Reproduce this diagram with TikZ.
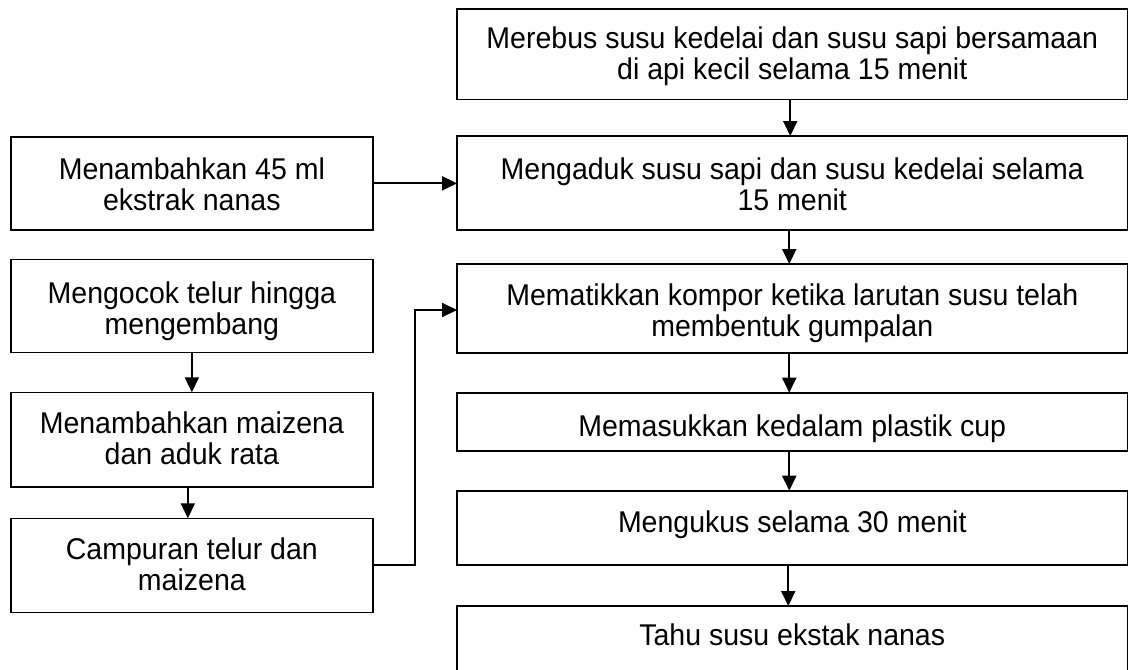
\documentclass[tikz,border=0pt]{standalone}
\usepackage{fontspec}
\setmainfont[FakeStretch=0.95]{Liberation Sans}
\usetikzlibrary{arrows.meta}
\begin{document}
\begin{tikzpicture}[x=1pt,y=-1pt,
  box/.style={draw=black, line width=1.6pt, inner sep=0pt, outer sep=0pt},
  rbox/.style={box, minimum width=670.5pt},
  lbox/.style={box, minimum width=361.7pt},
  txt/.style={font=\fontsize{30}{31}\selectfont, align=center, inner sep=0pt, anchor=north},
  arr/.style={line width=2pt, -{Triangle[length=15pt,width=14pt]}}]
\useasboundingbox (0,0) rectangle (1131,669);
\fill[white] (0,0) rectangle (1131,669);
\clip (0,0) rectangle (1131,669);
% right column
\node[rbox, minimum height=90.5pt] (b1) at (792.25,54.25) {};
\node[rbox, minimum height=94pt]   (b2) at (792.25,183) {};
\node[rbox, minimum height=88.7pt] (b3) at (792.25,308.35) {};
\node[rbox, minimum height=58pt]   (b4) at (792.25,421.7) {};
\node[rbox, minimum height=74.3pt] (b5) at (792.25,527.85) {};
\node[rbox, minimum height=84pt]   (b6) at (792.25,648) {};
% left column
\node[lbox, minimum height=93.3pt] (L1) at (191.85,183.35) {};
\node[lbox, minimum height=93pt]   (L2) at (191.85,305.8) {};
\node[lbox, minimum height=94.4pt] (L3) at (191.85,439.5) {};
\node[lbox, minimum height=94pt]   (L4) at (191.85,565.3) {};
% texts
\node[txt] (t1) at (792.25,26.5) {Merebus susu kedelai dan susu sapi bersamaan\\di api kecil selama 15 menit};
\node[txt] (t2) at (792.25,158) {Mengaduk susu sapi dan susu kedelai selama\\15 menit};
\node[txt] (t3) at (792.25,284) {Mematikkan kompor ketika larutan susu telah\\membentuk gumpalan};
\node[txt] (t4) at (792.25,415) {Memasukkan kedalam plastik cup};
\node[txt] (t5) at (792.25,511) {Mengukus selama 30 menit};
\node[txt] (t6) at (792.25,624) {Tahu susu ekstak nanas};
\node[txt] (s1) at (191.85,158) {Menambahkan 45 ml\\ekstrak nanas};
\node[txt] (s2) at (191.85,282) {Mengocok telur hingga\\mengembang};
\node[txt] (s3) at (191.85,412) {Menambahkan maizena\\dan aduk rata};
\node[txt] (s4) at (191.85,538) {Campuran telur dan\\maizena};
% connectors
\draw[arr] ([xshift=-2pt]b1.south) -- ([xshift=-2pt]b2.north);
\draw[arr] ([xshift=-3pt]b2.south) -- ([xshift=-3pt]b3.north);
\draw[arr] ([xshift=-3pt]b3.south) -- ([xshift=-3pt]b4.north);
\draw[arr] ([xshift=-3pt]b4.south) -- ([xshift=-3pt]b5.north);
\draw[arr] ([xshift=-4pt]b5.south) -- ([xshift=-4pt]b6.north);
\draw[arr] (L1.east) -- (L1.east -| b2.west);
\draw[arr] (L2.south) -- (L3.north);
\draw[arr] ([xshift=-4pt]L3.south) -- ([xshift=-4pt]L4.north);
\coordinate (elb) at (415,440);
\draw[arr] (L4.east) -| (elb) |- ([yshift=-1.65pt]b3.west);
\end{tikzpicture}
\end{document}
